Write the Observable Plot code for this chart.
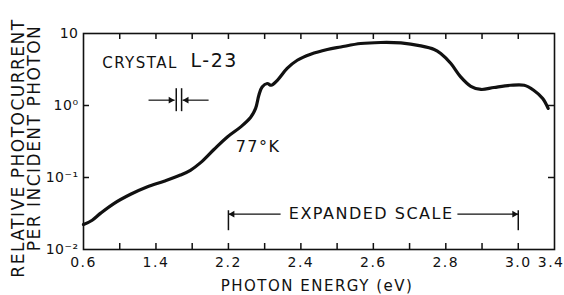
<!DOCTYPE html>
<html><head><meta charset="utf-8">
<script src="https://cdn.jsdelivr.net/npm/d3@7"></script>
<script src="https://cdn.jsdelivr.net/npm/@observablehq/plot@0.6"></script>
<style>
html,body{margin:0;padding:0;background:#fff;}
#chart svg text{letter-spacing:1.5px;}
#chart g[aria-label="ylabel"] text{letter-spacing:2.8px;}
#chart g[aria-label="l23"] text{letter-spacing:5px;}
#chart g[aria-label="y-axis tick label"] text{letter-spacing:0.5px;}
</style></head><body><div id="chart"></div>
<script>
// photon energy (eV) and relative photocurrent per incident photon
const energy = [0.6, 0.696, 0.79, 0.935, 1.12, 1.30, 1.49, 1.67, 1.78, 1.893, 2.04, 2.188,
  2.234, 2.261, 2.275, 2.284, 2.293, 2.307, 2.318, 2.335, 2.362, 2.39, 2.427, 2.473,
  2.51, 2.565, 2.62, 2.676, 2.731, 2.768, 2.786, 2.814, 2.841, 2.869, 2.897, 2.933,
  2.979, 3.065, 3.17, 3.27, 3.33];
const photocurrent = [0.0222, 0.0255, 0.032, 0.0435, 0.0586, 0.074, 0.089, 0.108, 0.126, 0.161, 0.245, 0.366,
  0.505, 0.68, 0.91, 1.39, 1.81, 2.02, 1.91, 2.24, 3.27, 4.25, 5.16, 6.0,
  6.5, 7.26, 7.5, 7.4, 6.73, 6.0, 5.27, 3.83, 2.5, 1.85, 1.67, 1.78,
  1.91, 1.91, 1.63, 1.25, 0.91];

const xBreaks = [0.6, 2.2, 3.0, 3.4];            // piecewise (expanded) energy axis
const xInnerTicks = [1.0, 1.4, 1.8, 2.2, 2.3, 2.4, 2.5, 2.6, 2.7, 2.8, 2.9, 3.0];
const xTickLabels = [0.6, 1.4, 2.2, 2.4, 2.6, 2.8, 3.0];
const xEdgeLabel = [3.4];
const yTickValues = [10, 1, 0.1, 0.01];
const yTickText = ["10", "10\u2070", "10\u207B\u00B9", "10\u207B\u00B2"];
const yInnerTicks = [1, 0.1];

const W = 564, H = 295, mL = 83, mR = 10, mT = 33, mB = 46;
const pw = W - mL - mR, ph = H - mT - mB;
const u = pw / 13;
const ink = "#111";

const data = energy.map((e, i) => ({e, p: photocurrent[i]}));

const chart = Plot.plot({
  width: W, height: H,
  marginLeft: mL, marginRight: mR, marginTop: mT, marginBottom: mB,
  style: {fontFamily: "DejaVu Sans", fontSize: "14px", color: ink, background: "#fff"},
  x: {type: "linear", domain: xBreaks, range: [mL, mL + 4 * u, mL + 12 * u, W - mR]},
  y: {type: "log", domain: [0.01, 10]},
  marks: [
    Plot.frame({stroke: ink, strokeWidth: 1.6}),
    Plot.tickX(xInnerTicks, {x: d => d, insetTop: ph - 6, stroke: ink, strokeWidth: 1.5}),
    Plot.tickX(xInnerTicks, {x: d => d, insetBottom: ph - 6, stroke: ink, strokeWidth: 1.5}),
    Plot.tickY(yInnerTicks, {y: d => d, insetRight: pw - 6, stroke: ink, strokeWidth: 1.5}),
    Plot.tickY(yInnerTicks, {y: d => d, insetLeft: pw - 6, stroke: ink, strokeWidth: 1.5}),
    Plot.axisX(xTickLabels, {tickSize: 0, tickPadding: 8, tickFormat: d => d.toFixed(1), fontSize: 14, label: null}),
    Plot.axisX(xEdgeLabel, {tickSize: 0, tickPadding: 8, tickFormat: d => d.toFixed(1), fontSize: 14, label: null, textAnchor: "end", dx: 10}),
    Plot.axisY(yTickValues, {tickSize: 0, tickPadding: 5, tickFormat: d => yTickText[yTickValues.indexOf(d)], fontSize: 14, label: null}),
    Plot.text(["PHOTON ENERGY (eV)"], {frameAnchor: "bottom", lineAnchor: "middle", dy: 37, dx: -2, fontSize: 15}),
    Plot.text(["RELATIVE PHOTOCURRENT"], {frameAnchor: "left", textAnchor: "middle", lineAnchor: "middle", dx: -65, dy: 6.5, rotate: -90, fontSize: 17, ariaLabel: "ylabel"}),
    Plot.text(["PER INCIDENT PHOTON"], {frameAnchor: "left", textAnchor: "middle", lineAnchor: "middle", dx: -49, dy: -3.5, rotate: -90, fontSize: 17, ariaLabel: "ylabel"}),
    Plot.line(data, {x: "e", y: "p", curve: "catmull-rom", stroke: ink, strokeWidth: 3.2}),
    // annotations
    Plot.text([{x: 0.806, y: 3.83}], {x: "x", y: "y", text: () => "CRYSTAL", textAnchor: "start", fontSize: 15}),
    Plot.text([{x: 1.782, y: 4.12}], {x: "x", y: "y", text: () => "L-23", textAnchor: "start", fontSize: 19, ariaLabel: "l23"}),
    Plot.text([{x: 2.22, y: 0.266}], {x: "x", y: "y", text: () => "77°K", textAnchor: "start", fontSize: 16}),
    Plot.text([{x: 2.594, y: 0.0309}], {x: "x", y: "y", text: () => "EXPANDED SCALE", fontSize: 16}),
    // slit-width symbol
    Plot.link([{x1: 1.318, x2: 1.606, y: 1.186}, {x1: 1.981, x2: 1.694, y: 1.186}], {x1: "x1", x2: "x2", y1: "y", y2: "y", stroke: ink, strokeWidth: 1.2}),
    Plot.link([{x: 1.624}, {x: 1.683}], {x1: "x", x2: "x", y1: () => 0.834, y2: () => 1.738, stroke: ink, strokeWidth: 1.5}),
    Plot.dot([{x: 1.562, y: 1.186, r: 90}, {x: 1.738, y: 1.186, r: -90}], {x: "x", y: "y", rotate: "r", symbol: "triangle", r: 2.5, fill: ink, stroke: null}),
    // expanded-scale bracket
    Plot.link([{x1: 2.2, x2: 2.344}, {x1: 2.832, x2: 3.0}], {x1: "x1", x2: "x2", y1: () => 0.0309, y2: () => 0.0309, stroke: ink, strokeWidth: 1.2}),
    Plot.link([{x: 2.2}, {x: 3.0}], {x1: "x", x2: "x", y1: () => 0.01853, y2: () => 0.0351, stroke: ink, strokeWidth: 1.5}),
    Plot.dot([{x: 2.211, y: 0.0309, r: -90}, {x: 2.989, y: 0.0309, r: 90}], {x: "x", y: "y", rotate: "r", symbol: "triangle", r: 2.5, fill: ink, stroke: null})
  ]
});
document.getElementById("chart").appendChild(chart);
</script></body></html>
